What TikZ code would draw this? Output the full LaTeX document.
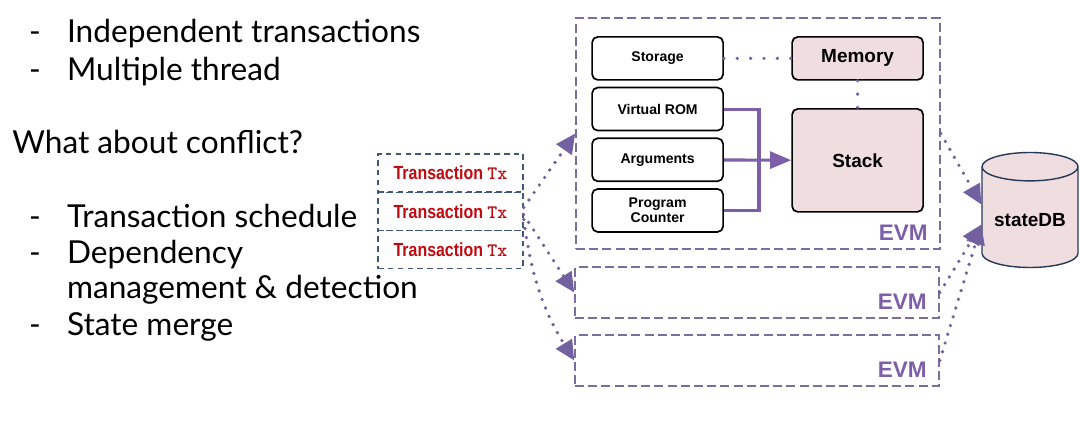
\documentclass[tikz,border=0pt]{standalone}
\usepackage{fontspec}
\setmainfont{Lato}
\newfontfamily\boxfont{Liberation Sans}
\newfontfamily\narrowfont[FakeStretch=0.84]{Liberation Sans}
\usetikzlibrary{positioning,arrows.meta,shapes.geometric}

\definecolor{evmline}{RGB}{122,110,160}
\definecolor{evmpurple}{RGB}{125,94,168}
\definecolor{txline}{RGB}{62,88,128}
\definecolor{txred}{RGB}{192,10,16}
\definecolor{blockpink}{RGB}{240,221,223}
\definecolor{dbline}{RGB}{38,58,88}
\definecolor{dotpurple}{RGB}{115,96,160}

\tikzset{
  lefttxt/.style={anchor=base west, inner sep=0pt, font=\fontsize{22.5}{26}\selectfont},
  txbox/.style={draw=txline, line width=1pt, dash pattern=on 4pt off 3pt,
    minimum width=3.625cm, minimum height=0.96cm, text=txred,
    font=\narrowfont\bfseries\fontsize{13.5}{15}\selectfont},
  evm/.style={draw=evmline, line width=1.1pt, dash pattern=on 6.4pt off 3pt, minimum width=9.1cm},
  evmlbl/.style={anchor=base east, inner sep=0pt, text=evmpurple,
    font=\boxfont\bfseries\fontsize{16}{18}\selectfont},
  blk/.style={draw, rounded corners=4pt, line width=1.2pt, minimum width=3.275cm,
    minimum height=1.075cm, align=center,
    font=\boxfont\bfseries\fontsize{10}{11}\selectfont},
  bigblk/.style={blk, fill=blockpink, font=\boxfont\bfseries\fontsize{13.5}{15}\selectfont},
  feed/.style={draw=evmpurple, line width=2.2pt},
  dotlink/.style={draw=dotpurple, line width=2.6pt, line cap=round, dash pattern=on 0pt off 9.5pt},
  dotarrow/.style={draw=dotpurple, line width=2.6pt, line cap=round, dash pattern=on 0pt off 6.5pt,
    -{Triangle[length=14pt,width=13pt]}}
}

\begin{document}
\begin{tikzpicture}
  \useasboundingbox (0,0) rectangle (27,10.65);
  % Bullet points
  \node[lefttxt] (d1) at (0.72,9.575) {-};
  \node[lefttxt] (l1) at (1.67,9.575) {Independent transactions};
  \node[lefttxt] (d2) at (0.72,8.625) {-};
  \node[lefttxt] (l2) at (1.67,8.625) {Multiple thread};
  \node[lefttxt] (q) at (0.3,6.8) {What about conflict?};
  \node[lefttxt] (d3) at (0.72,4.95) {-};
  \node[lefttxt] (l3) at (1.67,4.95) {Transaction schedule};
  \node[lefttxt] (d4) at (0.72,4.075) {-};
  \node[lefttxt] (l4) at (1.67,4.075) {Dependency};
  \node[lefttxt] (l5) at (1.67,3.2) {management \& detection};
  \node[lefttxt] (d5) at (0.72,2.275) {-};
  \node[lefttxt] (l6) at (1.67,2.275) {State merge};

  % Transaction queue
  \node[txbox] (tx1) at (11.2625,6.325) {Transaction {\ttfamily Tx}};
  \node[txbox] (tx2) at (11.2625,5.3625) {Transaction {\ttfamily Tx}};
  \node[txbox] (tx3) at (11.2625,4.4125) {Transaction {\ttfamily Tx}};

  % EVM instances
  \node[evm, minimum height=5.775cm] (evm1) at (18.95,7.3125) {};
  \node[evm, minimum height=1.275cm] (evm2) at (18.925,3.3375) {};
  \node[evm, minimum height=1.275cm] (evm3) at (18.925,1.6375) {};
  \node[evmlbl] (lbl1) at ([shift={(-0.32,0.24)}]evm1.south east) {EVM};
  \node[evmlbl] (lbl2) at ([shift={(-0.32,0.24)}]evm2.south east) {EVM};
  \node[evmlbl] (lbl3) at ([shift={(-0.32,0.24)}]evm3.south east) {EVM};

  % Inside the first EVM
  \node[blk] (storage) at (16.44,9.19) {Storage};
  \node[blk, below=0.15cm of storage] (vrom) {Virtual ROM};
  \node[blk, below=0.15cm of vrom] (args) {Arguments};
  \node[blk, below=0.15cm of args] (pc) {Program\\Counter};
  \node[bigblk] (memory) at (21.44,9.19) {Memory};
  \node[bigblk, minimum height=2.575cm] (stack) at (21.44,6.64) {Stack};

  \draw[dotlink] (storage) -- (memory);
  \draw[dotlink] (memory) -- (stack);
  \draw[feed] (vrom.east) -- ++(0.875,0) |- (pc.east);
  \draw[feed, -{Triangle[length=15pt,width=12pt]}] (args) -- (stack);

  % State database
  \node[cylinder, shape border rotate=90, aspect=0.35, draw=dbline, line width=1pt,
    fill=blockpink, minimum width=2.4cm, minimum height=2.875cm,
    font=\boxfont\bfseries\fontsize{13.5}{15}\selectfont] (db) at (25.75,5.1375) {stateDB};

  % Dispatch and commit
  \draw[dotarrow] ([yshift=0.1cm]tx2.east) -- (evm1.west);
  \draw[dotarrow] ([yshift=-0.08cm]tx2.east) -- (evm2.west);
  \draw[dotarrow] ([yshift=-0.2cm]tx2.east) to[bend right=12] (evm3.west);
  \draw[dotarrow] (evm1.east) -- ([yshift=0.4cm]db.west);
  \draw[dotarrow] (evm2.east) -- ([yshift=-0.1cm]db.west);
  \draw[dotarrow] (evm3.east) -- ([yshift=-0.1cm]db.west);
\end{tikzpicture}
\end{document}
